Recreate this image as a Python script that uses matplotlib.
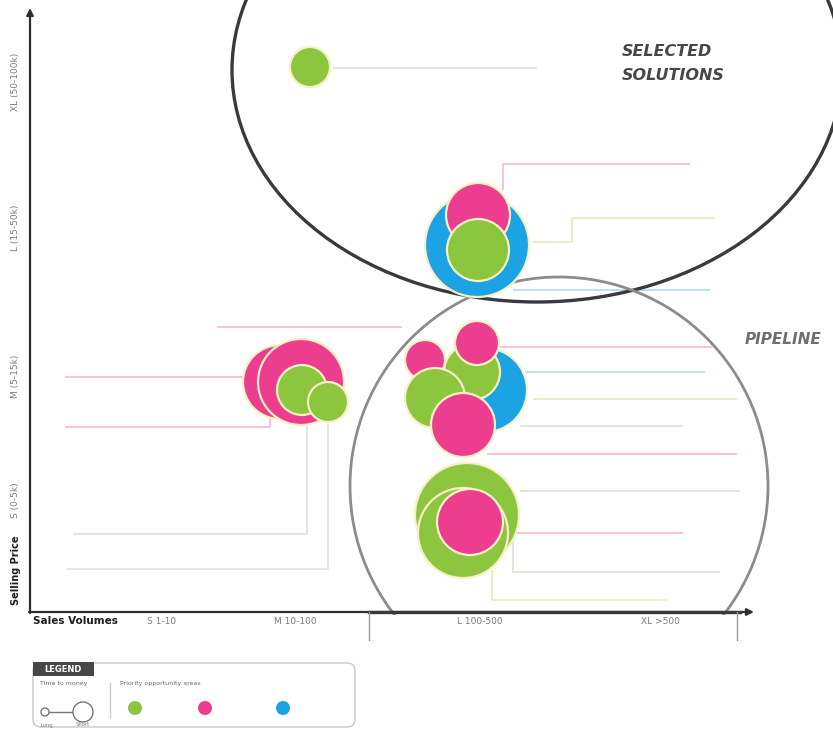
import matplotlib
matplotlib.use("Agg")
import matplotlib.pyplot as plt
from matplotlib.patches import Circle, Ellipse, FancyBboxPatch, Rectangle

# ---- categories / tick labels ----
price_labels = ["XL (50-100k)", "L (15-50k)", "M (5-15k)", "S (0-5k)"]
price_pos = [82, 228, 376, 500]
volume_labels = ["S 1-10", "M 10-100", "L 100-500", "XL >500"]
volume_pos = [162, 295, 480, 660]

GREEN = "#8cc63f"
PINK = "#ec3d8e"
BLUE = "#1ba3e3"
area_colors = {"g": GREEN, "p": PINK, "b": BLUE}

# ---- bubbles (centre x, centre y, radius, opportunity area), drawn in order ----
bubble_x = [310, 477, 478, 478,
            280, 301, 302, 328,
            485, 472, 477, 425, 435, 463,
            467, 463, 470]
bubble_y = [67, 245, 215, 250,
            382, 382, 390, 402,
            390, 372, 343, 360, 398, 425,
            515, 533, 522]
bubble_r = [20, 52, 32, 31,
            37, 43, 25, 20,
            42, 28, 22, 20, 30, 32,
            52, 45, 33]
bubble_area = ["g", "b", "p", "g",
               "p", "p", "g", "g",
               "b", "g", "p", "p", "g", "p",
               "g", "g", "p"]

# ---- leader lines (polyline vertices, colour key) ----
leader_paths = [
    ([(333, 68), (537, 68)], "n"),
    ([(503, 190), (503, 164), (690, 164)], "p"),
    ([(533, 242), (572, 242), (572, 218), (715, 218)], "y"),
    ([(513, 290), (710, 290)], "b"),
    ([(217, 327), (402, 327)], "p"),
    ([(243, 377), (65, 377)], "p"),
    ([(270, 418), (270, 427), (65, 427)], "p"),
    ([(307, 423), (307, 534), (73, 534)], "n"),
    ([(328, 420), (328, 569), (67, 569)], "n"),
    ([(500, 347), (712, 347)], "p"),
    ([(525, 372), (705, 372)], "b"),
    ([(533, 399), (737, 399)], "y"),
    ([(520, 426), (683, 426)], "n"),
    ([(487, 454), (737, 454)], "p"),
    ([(520, 491), (740, 491)], "n"),
    ([(513, 533), (683, 533)], "p"),
    ([(513, 540), (513, 572), (720, 572)], "n"),
    ([(492, 570), (492, 600), (667, 600)], "y"),
]
leader_colors = {"p": "#f3b3cf", "b": "#a9d6f0", "y": "#e8e4b8", "n": "#e2ddd2"}

fig = plt.figure(figsize=(8.33, 7.3), dpi=100)
ax = fig.add_axes([0, 0, 1, 1])
ax.set_xlim(0, 833)
ax.set_ylim(730, 0)
ax.axis("off")

# leader lines
for pts, key in leader_paths:
    xs, ys = zip(*pts)
    ax.plot(xs, ys, color=leader_colors[key], lw=1.1, zorder=1,
            solid_capstyle="butt")

# grouping outlines
ax.add_patch(Ellipse((537, 70), 610, 464, fill=False, ec="#3a3a3a",
                     lw=2.4, zorder=2))
pipe = Circle((559, 486), 209, fill=False, ec="#8c8c8c", lw=2.0, zorder=2)
ax.add_patch(pipe)
pipe.set_clip_path(Rectangle((0, 0), 833, 615, transform=ax.transData))

# bubbles
for x, y, r, a in zip(bubble_x, bubble_y, bubble_r, bubble_area):
    ax.add_patch(Circle((x, y), r, fc=area_colors[a], ec="#f6f0c6",
                        lw=1.6, zorder=3))

# group titles
for txt, y in [("SELECTED", 52), ("SOLUTIONS", 75)]:
    ax.text(622, y, txt, fontsize=11.5, fontweight="bold",
            fontstyle="italic", color="#474747", va="center", ha="left",
            zorder=4)
ax.text(745, 340, "PIPELINE", fontsize=11, fontweight="bold",
        fontstyle="italic", color="#6e6e6e", va="center", ha="left", zorder=4)

# axes with arrows
ax.annotate("", xy=(30, 8), xytext=(30, 613),
            arrowprops=dict(arrowstyle="-|>", color="#2e2e2e", lw=1.6,
                            mutation_scale=10, shrinkA=0, shrinkB=0), zorder=5)
ax.annotate("", xy=(754, 612), xytext=(29, 612),
            arrowprops=dict(arrowstyle="-|>", color="#2e2e2e", lw=1.6,
                            mutation_scale=10, shrinkA=0, shrinkB=0), zorder=5)
ax.plot([369, 740], [612, 612], color="#3a3a3a", lw=2.4, zorder=5)
ax.plot([369, 369], [612, 640], color="#9a9a9a", lw=1.0, zorder=5)
ax.plot([737, 737], [612, 640], color="#9a9a9a", lw=1.0, zorder=5)

# tick labels
for lab, y in zip(price_labels, price_pos):
    ax.text(16, y, lab, rotation=90, fontsize=6.5, color="#7a7a7a",
            ha="center", va="center")
ax.text(16, 570, "Selling Price", rotation=90, fontsize=7, fontweight="bold",
        color="#1e1e1e", ha="center", va="center")
for lab, x in zip(volume_labels, volume_pos):
    ax.text(x, 621, lab, fontsize=6.5, color="#7a7a7a", ha="center", va="center")
ax.text(33, 621, "Sales Volumes", fontsize=7.5, fontweight="bold",
        color="#1e1e1e", ha="left", va="center")

# legend panel
ax.add_patch(FancyBboxPatch((33, 663), 322, 64,
                            boxstyle="round,pad=0,rounding_size=8",
                            fc="white", ec="#c8c8c8", lw=1.0, zorder=4))
ax.add_patch(Rectangle((33, 662), 61, 14, fc="#474747", ec="none", zorder=5))
ax.text(63, 669, "LEGEND", fontsize=6, fontweight="bold", color="white",
        ha="center", va="center", zorder=6)
ax.text(40, 684, "Time to money", fontsize=4.5, color="#666666",
        ha="left", va="center", zorder=6)
ax.plot([49, 73], [712, 712], color="#777777", lw=1.0, zorder=5)
ax.add_patch(Circle((45, 712), 4, fc="white", ec="#777777", lw=1.0, zorder=6))
ax.add_patch(Circle((83, 712), 10, fc="white", ec="#777777", lw=1.0, zorder=6))
ax.text(47, 725, "Long", fontsize=3.8, color="#777777", ha="center",
        va="center", zorder=6)
ax.text(83, 725, "Short", fontsize=3.8, color="#777777", ha="center",
        va="center", zorder=6)
ax.plot([110, 110], [683, 718], color="#cccccc", lw=1.0, zorder=5)
ax.text(120, 684, "Priority opportunity areas", fontsize=4.5, color="#666666",
        ha="left", va="center", zorder=6)
for x, a in zip([135, 205, 283], ["g", "p", "b"]):
    ax.add_patch(Circle((x, 708), 7, fc=area_colors[a], ec="none", zorder=6))

fig.savefig("out.png", dpi=100, facecolor="white")
